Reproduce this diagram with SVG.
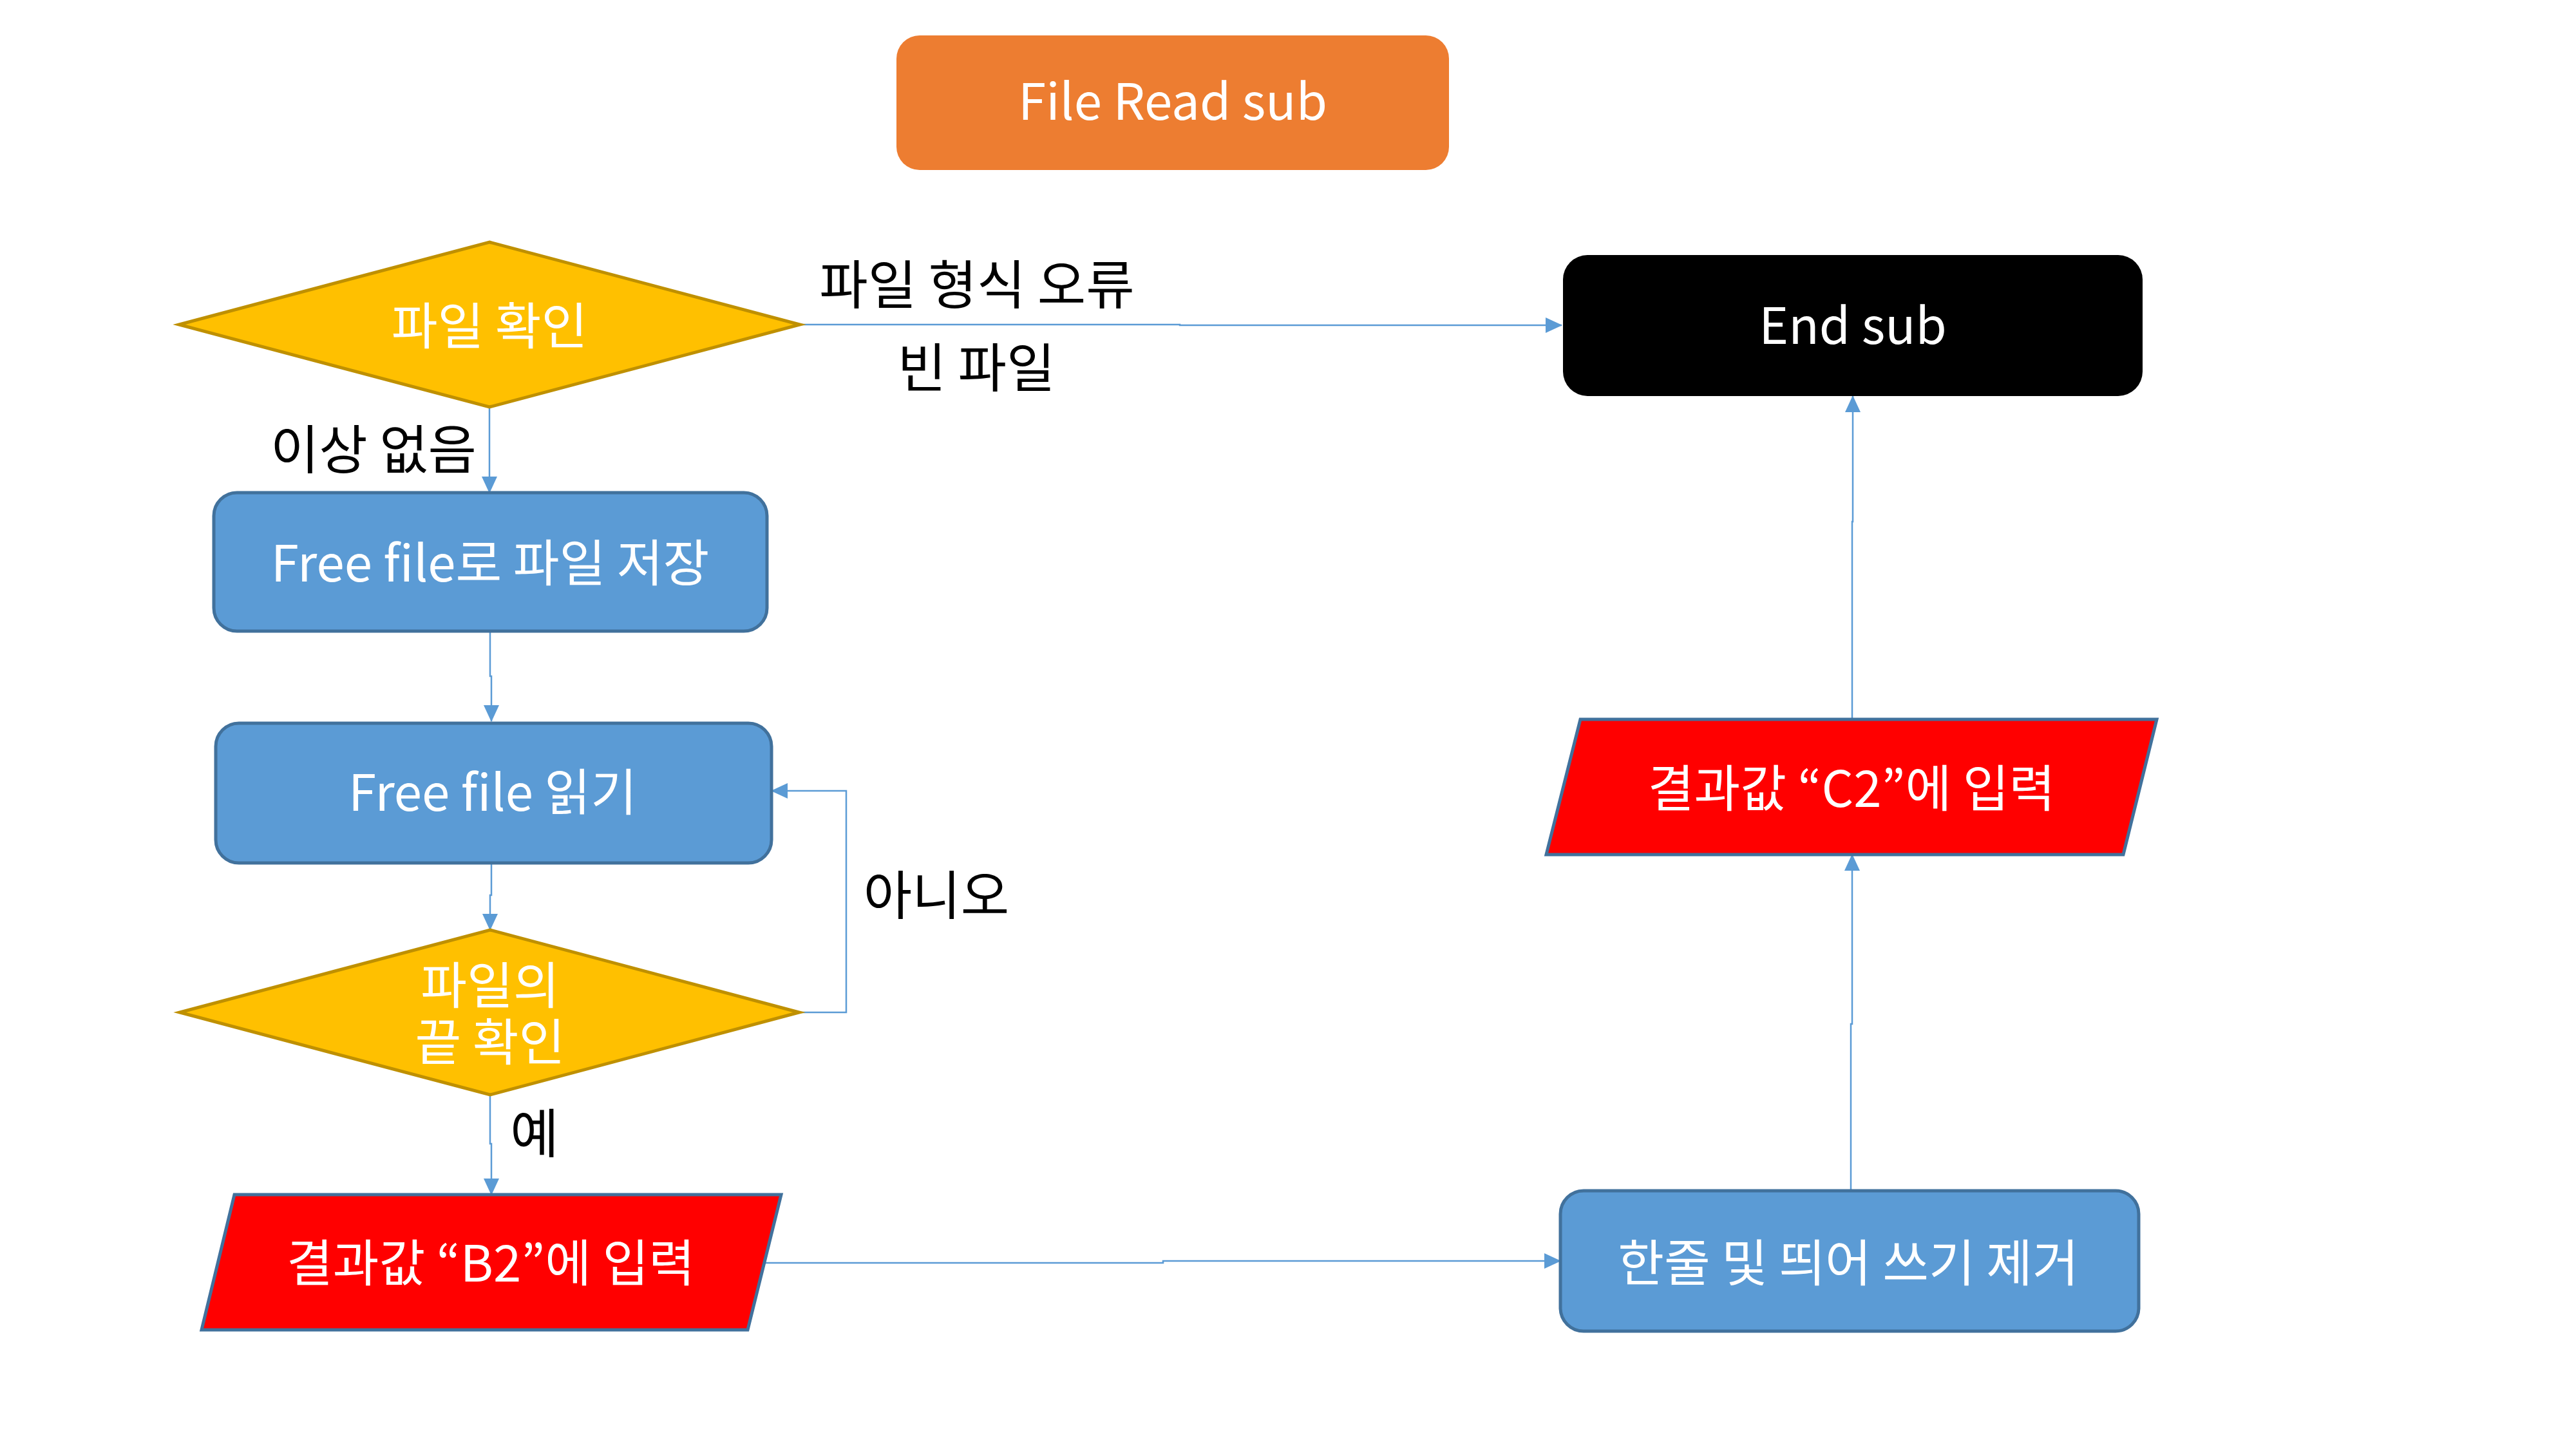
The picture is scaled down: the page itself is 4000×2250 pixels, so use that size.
<svg xmlns="http://www.w3.org/2000/svg" width="4000" height="2250" viewBox="0 0 4000 2250">
<style>
  .t { font-family: "Noto Sans CJK KR", "Noto Sans", sans-serif; text-anchor: middle; }
  .nt { fill: #FFFFFF; font-size: 78px; }
  .lb { fill: #000000; font-size: 82px; }
  .proc { fill: #5B9BD5; stroke: #41719C; stroke-width: 5; }
  .dec { fill: #FFC000; stroke: #BF9000; stroke-width: 5; }
  .io { fill: #FF0000; stroke: #41719C; stroke-width: 5; }
  .conn { fill: none; stroke: #5B9BD5; stroke-width: 2.5; }
</style>
<defs>
  <marker id="arr" markerUnits="userSpaceOnUse" markerWidth="26" markerHeight="24" refX="25" refY="12" orient="auto" viewBox="0 0 26 24">
    <path d="M0,0 L26,12 L0,24 z" fill="#5B9BD5"/>
  </marker>
</defs>
<rect width="4000" height="2250" fill="#FFFFFF"/>

<g id="connectors">
  <path class="conn" d="M1242,504 H1832 V505 H2425" marker-end="url(#arr)"/>
  <path class="conn" d="M760,632 V765" marker-end="url(#arr)"/>
  <path class="conn" d="M761,980 V1050 H763 V1120" marker-end="url(#arr)"/>
  <path class="conn" d="M763,1340 V1390 H761 V1444" marker-end="url(#arr)"/>
  <path class="conn" d="M1241,1572 H1314 V1228 H1198" marker-end="url(#arr)"/>
  <path class="conn" d="M761,1700 V1776 H763 V1855" marker-end="url(#arr)"/>
  <path class="conn" d="M1187,1961 H1806 V1958 H2423" marker-end="url(#arr)"/>
  <path class="conn" d="M2874,1849 V1590 H2876 V1327" marker-end="url(#arr)"/>
  <path class="conn" d="M2876,1117 V810 H2877 V615" marker-end="url(#arr)"/>
</g>

<g id="labels">
  <text class="t lb" x="1517" y="472" font-size="83">파일 형식 오류</text>
  <text class="t lb" x="1516" y="601">빈 파일</text>
  <text class="t lb" x="580" y="728" font-size="83">이상 없음</text>
  <text class="t lb" x="1454" y="1420" font-size="80">아니오</text>
  <text class="t lb" x="830" y="1790" font-size="80">예</text>
</g>

<g id="start">
  <rect x="1392" y="55" width="858" height="209" rx="36" ry="36" fill="#ED7D31"/>
  <text class="t nt" x="1821" y="186" font-size="74">File Read sub</text>
</g>

<g id="check-file">
  <polygon class="dec" points="760,376 1242,504 760,632 278,504"/>
  <text class="t nt" x="760" y="535" font-size="82">파일 확인</text>
</g>

<g id="save-file">
  <rect class="proc" x="332" y="765" width="859" height="215" rx="36" ry="36"/>
  <text class="t nt" x="761" y="903" font-size="80">Free file로 파일 저장</text>
</g>

<g id="read-file">
  <rect class="proc" x="335" y="1123" width="863" height="217" rx="36" ry="36"/>
  <text class="t nt" x="765" y="1259">Free file 읽기</text>
</g>

<g id="check-eof">
  <polygon class="dec" points="761,1444 1241,1572 761,1700 279,1572"/>
  <text class="t nt" font-size="81"><tspan x="761" y="1559">파일의</tspan><tspan x="761" y="1647">끝 확인</tspan></text>
</g>

<g id="write-b2">
  <polygon class="io" points="364,1855 1213,1855 1161,2065 313,2065"/>
  <text class="t nt" x="762" y="1990" font-size="79">결과값 “B2”에 입력</text>
</g>

<g id="remove-space">
  <rect class="proc" x="2423" y="1849" width="898" height="218" rx="36" ry="36"/>
  <text class="t nt" x="2870" y="1990" font-size="84">한줄 및 띄어 쓰기 제거</text>
</g>

<g id="write-c2">
  <polygon class="io" points="2454,1117 3349,1117 3297,1327 2401,1327"/>
  <text class="t nt" x="2875" y="1253" font-size="79">결과값 “C2”에 입력</text>
</g>

<g id="end">
  <rect x="2427" y="396" width="900" height="219" rx="38" ry="38" fill="#000000"/>
  <text class="t nt" x="2877" y="534" font-size="74">End sub</text>
</g>
</svg>
